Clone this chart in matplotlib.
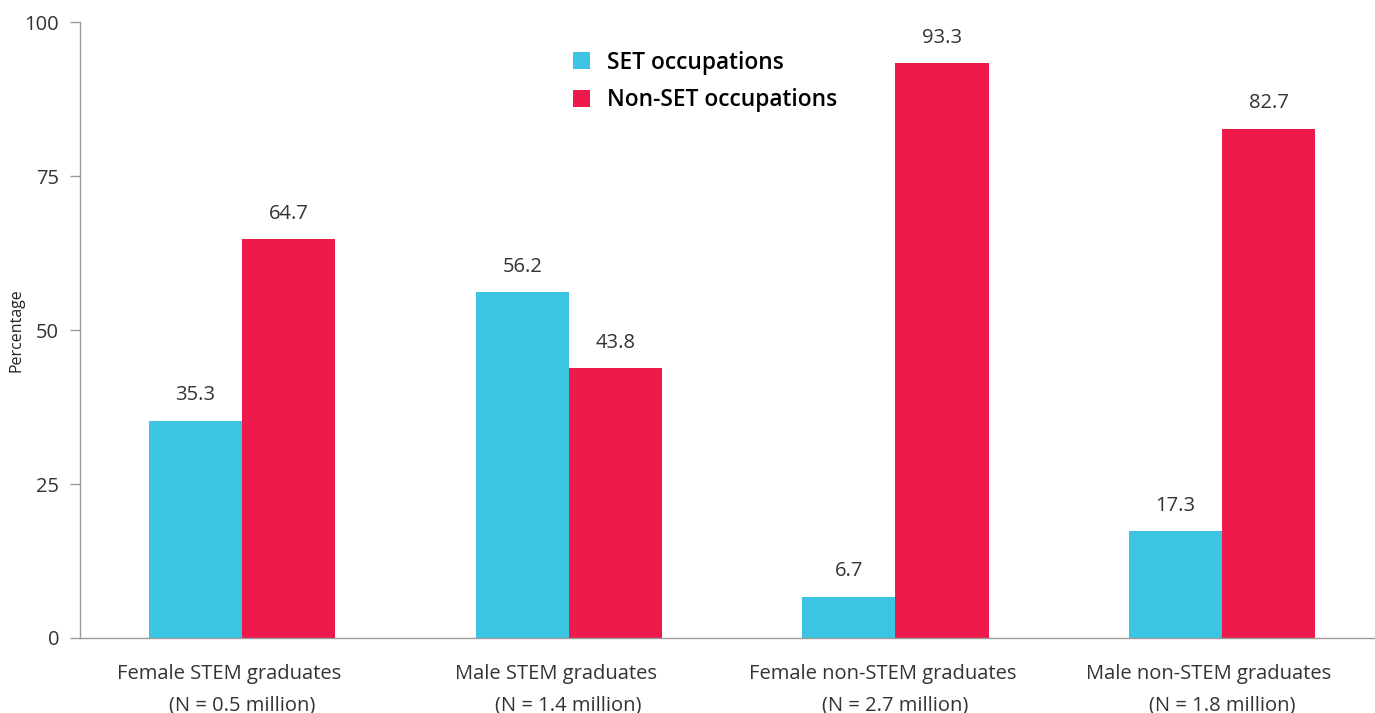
import matplotlib.pyplot as plt
import numpy as np

# share of graduates working in SET vs non-SET occupations
groups = ["Female STEM graduates", "Male STEM graduates",
          "Female non-STEM graduates", "Male non-STEM graduates"]
sizes = ["0.5", "1.4", "2.7", "1.8"]
set_occ = [35.3, 56.2, 6.7, 17.3]
non_set_occ = [64.7, 43.8, 93.3, 82.7]

plt.rcParams['font.family'] = ['Open Sans', 'DejaVu Sans']

cyan = "#3CC4E3"
red = "#EE1A4B"
grey = "#9A9A9A"

fig = plt.figure(figsize=(13.75, 7.13), dpi=100)
ax = fig.add_axes([0.0582, 0.1052, 0.9418, 0.8639])

x = np.arange(len(groups))
w = 0.285
b1 = ax.bar(x - w/2, set_occ, w, color=cyan, label="SET occupations")
b2 = ax.bar(x + w/2, non_set_occ, w, color=red, label="Non-SET occupations")

for bars, vals in [(b1, set_occ), (b2, non_set_occ)]:
    for r, v in zip(bars, vals):
        ax.annotate(f"{v:.1f}", (r.get_x() + r.get_width()/2, v),
                    xytext=(0, 11), textcoords="offset points",
                    ha="center", va="bottom", fontsize=14.5, color="#333333")

ax.set_xlim(-0.496, 3.468)
ax.set_ylim(0, 100)
ax.set_yticks([0, 25, 50, 75, 100])
ax.set_xticks(x)
ax.set_xticklabels([g + "     \n(N = " + s + " million)" for g, s in zip(groups, sizes)],
                   fontsize=14.5, color="#333333", linespacing=1.75)
ax.tick_params(axis="x", length=0, pad=19)
ax.tick_params(axis="y", length=7, width=1, color=grey, labelsize=14.5,
               labelcolor="#333333", pad=8)
ax.set_ylabel("Percentage", fontsize=11.5, color="#222222")
ax.yaxis.set_label_coords(-0.043, 0.5)

for s in ["top", "right"]:
    ax.spines[s].set_visible(False)
for s in ["left", "bottom"]:
    ax.spines[s].set_color(grey)
    ax.spines[s].set_linewidth(1)

ax.legend(loc="upper left", bbox_to_anchor=(0.372, 0.972), frameon=False,
          handlelength=0.75, handleheight=0.75, handletextpad=0.75,
          labelspacing=0.6, borderpad=0,
          prop={"size": 16.4, "weight": "semibold"})

fig.savefig("out.png", dpi=100)
